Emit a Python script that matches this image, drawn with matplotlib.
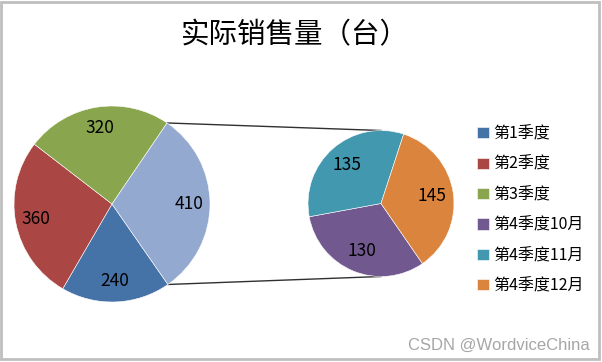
import matplotlib
matplotlib.use("Agg")
import matplotlib.pyplot as plt
from matplotlib.patches import Rectangle
import numpy as np

plt.rcParams['font.family'] = ['Noto Sans CJK SC', 'DejaVu Sans']

# data
main_labels = ["第1季度", "第2季度", "第3季度", "第4季度"]
main_values = [240, 360, 320, 410]
q4_labels = ["第4季度10月", "第4季度11月", "第4季度12月"]
q4_values = [130, 135, 145]
main_colors = ["#4572A7", "#AA4643", "#89A54E", "#93A9CF"]
q4_colors = ["#71588F", "#4198AF", "#DB843D"]

W, H = 602, 362
fig = plt.figure(figsize=(W / 100, H / 100), dpi=100)
ax = fig.add_axes([0, 0, 1, 1])

# outer border
ax.add_patch(Rectangle((1, 3), 598, 357, fill=False, edgecolor="#BFBFBF", lw=2))

def fmt(total):
    return lambda p: "%d" % round(p * total / 100)

# main pie
c1, r1 = (112, 158), 98
w1, t1, a1 = ax.pie(main_values, colors=main_colors, center=c1, radius=r1,
                    startangle=-55.2, counterclock=False,
                    autopct=fmt(sum(main_values)), pctdistance=0.79,
                    wedgeprops=dict(edgecolor="white", linewidth=0.4),
                    textprops=dict(fontsize=12.5, color="black"), frame=True)

# secondary pie
c2, r2 = (381, 158.5), 73
w2, t2, a2 = ax.pie(q4_values, colors=q4_colors, center=c2, radius=r2,
                    startangle=-55.4, counterclock=False,
                    autopct=fmt(sum(q4_values)), pctdistance=0.70,
                    wedgeprops=dict(edgecolor="white", linewidth=0.4),
                    textprops=dict(fontsize=12.5, color="black"), frame=True)
ax.set_xlim(0, W)
ax.set_ylim(0, H)
ax.axis("off")
ax.set_aspect("equal")

# connector lines from the "other" wedge to the secondary pie
other = w1[3]
for th, sy in [(other.theta2, 1), (other.theta1, -1)]:
    x0 = c1[0] + r1 * np.cos(np.radians(th))
    y0 = c1[1] + r1 * np.sin(np.radians(th))
    ax.plot([x0, c2[0]], [y0, c2[1] + sy * r2], color="#303030", lw=1, zorder=0)

# title
fig.text(295 / W, 1 - 35 / H, "实际销售量（台）", fontsize=20.5,
         ha="center", va="center")

# legend
handles = list(w1[:3]) + list(w2)
labels = main_labels[:3] + q4_labels
fig.legend(handles, labels, loc="upper left", bbox_to_anchor=(471 / W, 1 - 119 / H),
           frameon=False, fontsize=11.5, handlelength=0.7, handleheight=0.7,
           handletextpad=0.3, labelspacing=0.84, borderaxespad=0)

# watermark
fig.text(590 / W, 1 - 345 / H, "CSDN @WordviceChina", fontsize=12,
         color="#A6A6A6", ha="right", va="center", family="Liberation Sans")

fig.savefig("out.png", dpi=100)
